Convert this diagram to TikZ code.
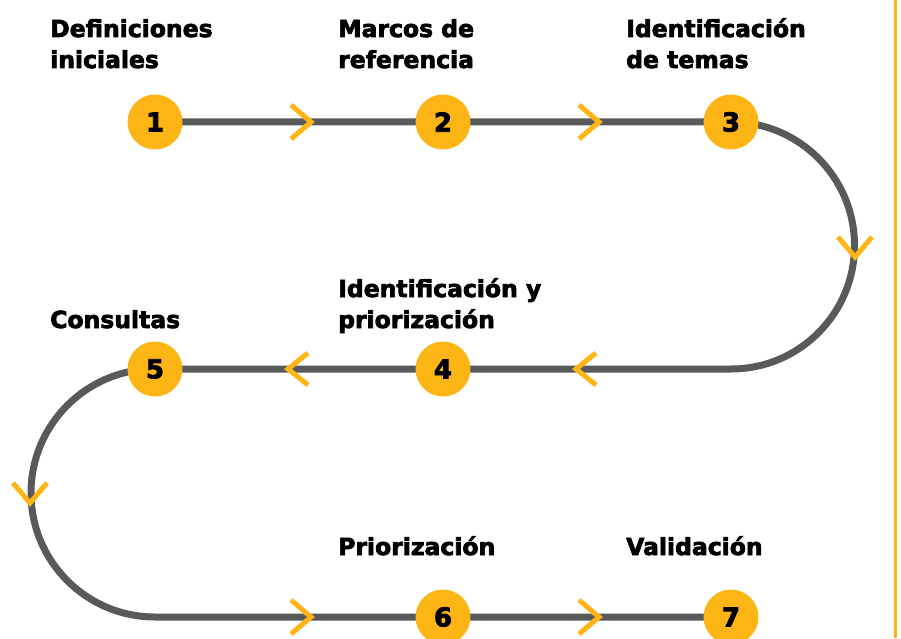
\documentclass[tikz,border=0pt]{standalone}
\usepackage{fontspec}
\usetikzlibrary{calc}
\setmainfont{DejaVu Sans}[BoldFeatures={FakeBold=3}]
\definecolor{track}{HTML}{58595B}
\definecolor{accent}{HTML}{FDB515}
\begin{document}
\begin{tikzpicture}[x=1pt,y=1pt,
  stepdot/.style={circle,fill=accent,minimum size=55pt,inner sep=0pt,font=\fontsize{26}{26}\selectfont\bfseries},
  lbl/.style={anchor=base west,inner sep=0pt,align=left,font=\fontsize{23.5}{31}\selectfont\bfseries},
  chev/.style={draw=accent,line width=5pt,line cap=butt,line join=miter},
  trackline/.style={draw=track,line width=7pt}]
\useasboundingbox (0,0) rectangle (901,638);
% nodes positions
\coordinate (p1) at (155,516);
\coordinate (p2) at (443,516);
\coordinate (p3) at (731,516);
\coordinate (p4) at (443,269);
\coordinate (p5) at (155,269);
\coordinate (p6) at (443,21);
\coordinate (p7) at (731,21);
% track
\path[trackline] (p1) -- (p3) arc[start angle=90,end angle=-90,radius=123.5] -- (p5) arc[start angle=90,end angle=270,radius=124] -- (p7);
% chevrons
\coordinate (c1) at (311,516);
\coordinate (c2) at (599,516);
\coordinate (c3) at (855,381);
\coordinate (c4) at (576,269);
\coordinate (c5) at (288,269);
\coordinate (c6) at (30,135);
\coordinate (c7) at (311,21);
\coordinate (c8) at (599,21);
\foreach \c in {c1,c2,c7,c8}{\draw[chev] ($(\c)+(-20,17)$) -- (\c) -- ($(\c)+(-20,-17)$);}
\foreach \c in {c4,c5}{\draw[chev] ($(\c)+(20,16)$) -- (\c) -- ($(\c)+(20,-16)$);}
\foreach \c in {c3,c6}{\draw[chev] ($(\c)+(-17,20)$) -- (\c) -- ($(\c)+(17,20)$);}
% circles
\node[stepdot] (n1) at (p1) {1};
\node[stepdot] (n2) at (p2) {2};
\node[stepdot] (n3) at (p3) {3};
\node[stepdot] (n4) at (p4) {4};
\node[stepdot] (n5) at (p5) {5};
\node[stepdot] (n6) at (p6) {6};
\node[stepdot] (n7) at (p7) {7};
% labels
\node[lbl] (l1) at (50,570) {Definiciones\\iniciales};
\node[lbl] (l2) at (338,570) {Marcos de\\referencia};
\node[lbl] (l3) at (626,570) {Identificación\\de temas};
\node[lbl] (l4) at (338,310) {Identificación y\\priorización};
\node[lbl] (l5) at (50,310) {Consultas};
\node[lbl] (l6) at (338,83) {Priorización};
\node[lbl] (l7) at (626,83) {Validación};
% right rule
\coordinate (r1) at (895,638);
\coordinate (r2) at (895,0);
\draw[accent,line width=3pt] (r1) -- (r2);
\end{tikzpicture}
\end{document}
